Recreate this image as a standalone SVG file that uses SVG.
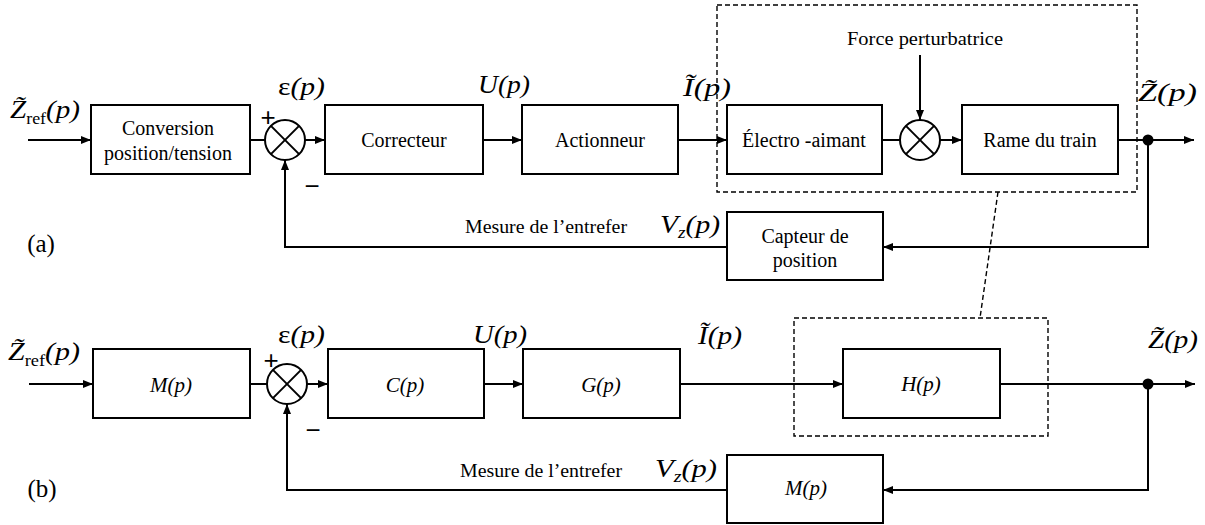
<svg xmlns="http://www.w3.org/2000/svg" width="1205" height="525" viewBox="0 0 1205 525">
<style>
.box{fill:#fff;stroke:#000;stroke-width:2}
.sum{fill:#fff;stroke:#000;stroke-width:2}
.ln{fill:none;stroke:#000;stroke-width:2}
.dash{fill:none;stroke:#000;stroke-width:1.4;stroke-dasharray:5,3}
.t{font-family:"Liberation Serif","Times New Roman",serif;font-size:20px;fill:#000;text-anchor:middle}
.ti{font-family:"Liberation Serif","Times New Roman",serif;font-size:21px;font-style:italic;fill:#000;text-anchor:middle}
.m{font-family:"Liberation Serif","Times New Roman",serif;font-size:26px;font-style:italic;fill:#000}
.n{font-family:"Liberation Serif","Times New Roman",serif;font-size:19px;fill:#000}
.tl{font-family:"Liberation Serif","Times New Roman",serif;font-size:25px;fill:#000;text-anchor:middle}
.sg{font-family:"Liberation Sans",Arial,sans-serif;font-size:26px;fill:#000;text-anchor:middle}
</style>
<defs>
<marker id="ah" viewBox="0 0 10 8" refX="10" refY="4" markerWidth="10" markerHeight="8" markerUnits="userSpaceOnUse" orient="auto">
<path d="M0,0 L10,4 L0,8 z" fill="#000"/>
</marker>
</defs>
<rect width="1205" height="525" fill="#fff"/>

<g id="connectors">
<line class="ln" x1="28" y1="140" x2="91" y2="140" marker-end="url(#ah)"/>
<line class="ln" x1="250" y1="140" x2="265" y2="140"/>
<line class="ln" x1="305" y1="140" x2="325" y2="140" marker-end="url(#ah)"/>
<line class="ln" x1="483" y1="140" x2="522" y2="140" marker-end="url(#ah)"/>
<line class="ln" x1="678" y1="140" x2="727" y2="140" marker-end="url(#ah)"/>
<line class="ln" x1="882" y1="140" x2="900" y2="140"/>
<line class="ln" x1="940" y1="140" x2="962" y2="140" marker-end="url(#ah)"/>
<line class="ln" x1="920" y1="55" x2="920" y2="120" marker-end="url(#ah)"/>
<line class="ln" x1="1118" y1="140" x2="1194" y2="140" marker-end="url(#ah)"/>
<polyline class="ln" points="1148,140 1148,247 883,247" marker-end="url(#ah)"/>
<polyline class="ln" points="727,247 285,247 285,160" marker-end="url(#ah)"/>
<line class="ln" x1="29" y1="384" x2="93" y2="384" marker-end="url(#ah)"/>
<line class="ln" x1="250" y1="384" x2="267" y2="384"/>
<line class="ln" x1="307" y1="384" x2="328" y2="384" marker-end="url(#ah)"/>
<line class="ln" x1="484" y1="384" x2="523" y2="384" marker-end="url(#ah)"/>
<line class="ln" x1="680" y1="384" x2="843" y2="384" marker-end="url(#ah)"/>
<line class="ln" x1="1000" y1="384" x2="1195" y2="384" marker-end="url(#ah)"/>
<polyline class="ln" points="1148,384 1148,490 883,490" marker-end="url(#ah)"/>
<polyline class="ln" points="727,490 287,490 287,404" marker-end="url(#ah)"/>
<rect class="dash" x="717" y="5" width="420" height="187"/>
<rect class="dash" x="794" y="318" width="254" height="118"/>
<line class="dash" x1="998" y1="192" x2="980" y2="318"/>
</g>

<g id="conversion"><rect class="box" x="91" y="105" width="159" height="69"/>
<text class="t" x="168" y="135">Conversion</text><text class="t" x="168" y="160">position/tension</text></g>
<g id="sum1"><circle class="sum" cx="285" cy="140" r="20"/>
<line class="ln" x1="270.9" y1="125.9" x2="299.1" y2="154.1"/><line class="ln" x1="299.1" y1="125.9" x2="270.9" y2="154.1"/></g>
<g id="correcteur"><rect class="box" x="325" y="105" width="158" height="69"/><text class="t" x="404" y="147">Correcteur</text></g>
<g id="actionneur"><rect class="box" x="522" y="105" width="156" height="69"/><text class="t" x="600" y="147">Actionneur</text></g>
<g id="electro"><rect class="box" x="727" y="105" width="155" height="69"/><text class="t" x="804" y="147">Électro -aimant</text></g>
<g id="sum2"><circle class="sum" cx="920" cy="140" r="20"/>
<line class="ln" x1="905.9" y1="125.9" x2="934.1" y2="154.1"/><line class="ln" x1="934.1" y1="125.9" x2="905.9" y2="154.1"/></g>
<g id="rame"><rect class="box" x="962" y="105" width="156" height="69"/><text class="t" x="1040" y="147">Rame du train</text></g>
<g id="dot1"><circle cx="1148" cy="140" r="5.5" fill="#000"/></g>
<g id="capteur"><rect class="box" x="727" y="212" width="156" height="68"/>
<text class="t" x="805" y="243">Capteur de</text><text class="t" x="805" y="267">position</text></g>

<g id="mb1"><rect class="box" x="93" y="349" width="157" height="69"/><text class="ti" x="171" y="392">M(p)</text></g>
<g id="sum3"><circle class="sum" cx="287" cy="384" r="20"/>
<line class="ln" x1="272.9" y1="369.9" x2="301.1" y2="398.1"/><line class="ln" x1="301.1" y1="369.9" x2="272.9" y2="398.1"/></g>
<g id="cb"><rect class="box" x="328" y="349" width="156" height="69"/><text class="ti" x="405" y="392">C(p)</text></g>
<g id="gb"><rect class="box" x="523" y="349" width="157" height="69"/><text class="ti" x="601" y="392">G(p)</text></g>
<g id="hb"><rect class="box" x="843" y="349" width="157" height="69"/><text class="ti" x="921" y="391">H(p)</text></g>
<g id="dot2"><circle cx="1148" cy="384" r="5.5" fill="#000"/></g>
<g id="mb2"><rect class="box" x="727" y="455" width="156" height="68"/><text class="ti" x="806" y="495">M(p)</text></g>

<g id="labels">
<text class="n" x="847" y="45" textLength="156" lengthAdjust="spacingAndGlyphs">Force perturbatrice</text>
<text class="n" x="465" y="233" textLength="162" lengthAdjust="spacingAndGlyphs">Mesure de l’entrefer</text>
<text class="n" x="460" y="477" textLength="162" lengthAdjust="spacingAndGlyphs">Mesure de l’entrefer</text>
<text class="tl" x="41" y="252">(a)</text>
<text class="tl" x="42" y="497">(b)</text>
<text class="sg" x="268" y="126">+</text>
<text class="sg" x="312" y="195">−</text>
<text class="sg" x="271" y="369">+</text>
<text class="sg" x="313" y="439">−</text>

<text class="m" x="10" y="118" textLength="70" lengthAdjust="spacingAndGlyphs">Z̃<tspan font-size="16" font-style="normal" dy="6">ref</tspan><tspan dy="-6">(p)</tspan></text>
<text class="m" x="8" y="360" textLength="72" lengthAdjust="spacingAndGlyphs">Z̃<tspan font-size="16" font-style="normal" dy="6">ref</tspan><tspan dy="-6">(p)</tspan></text>

<text class="m" x="278" y="95" textLength="47" lengthAdjust="spacingAndGlyphs"><tspan font-style="normal">ε</tspan>(p)</text>
<text class="m" x="278" y="343" textLength="47" lengthAdjust="spacingAndGlyphs"><tspan font-style="normal">ε</tspan>(p)</text>
<text class="m" x="478" y="93" textLength="52" lengthAdjust="spacingAndGlyphs">U(p)</text>
<text class="m" x="473" y="343" textLength="54" lengthAdjust="spacingAndGlyphs">U(p)</text>

<text class="m" x="683" y="96" textLength="48" lengthAdjust="spacingAndGlyphs">Ĩ(p)</text>
<text class="m" x="698" y="344" textLength="44" lengthAdjust="spacingAndGlyphs">Ĩ(p)</text>

<text class="m" x="1138" y="101" textLength="59" lengthAdjust="spacingAndGlyphs">Z̃(p)</text>
<text class="m" x="1148" y="348" textLength="50" lengthAdjust="spacingAndGlyphs">Z̃(p)</text>

<text class="m" x="660" y="233" textLength="60" lengthAdjust="spacingAndGlyphs">V<tspan font-size="17" dy="5">z</tspan><tspan dy="-5">(p)</tspan></text>
<text class="m" x="655" y="477" textLength="62" lengthAdjust="spacingAndGlyphs">V<tspan font-size="17" dy="5">z</tspan><tspan dy="-5">(p)</tspan></text>
</g>
</svg>
